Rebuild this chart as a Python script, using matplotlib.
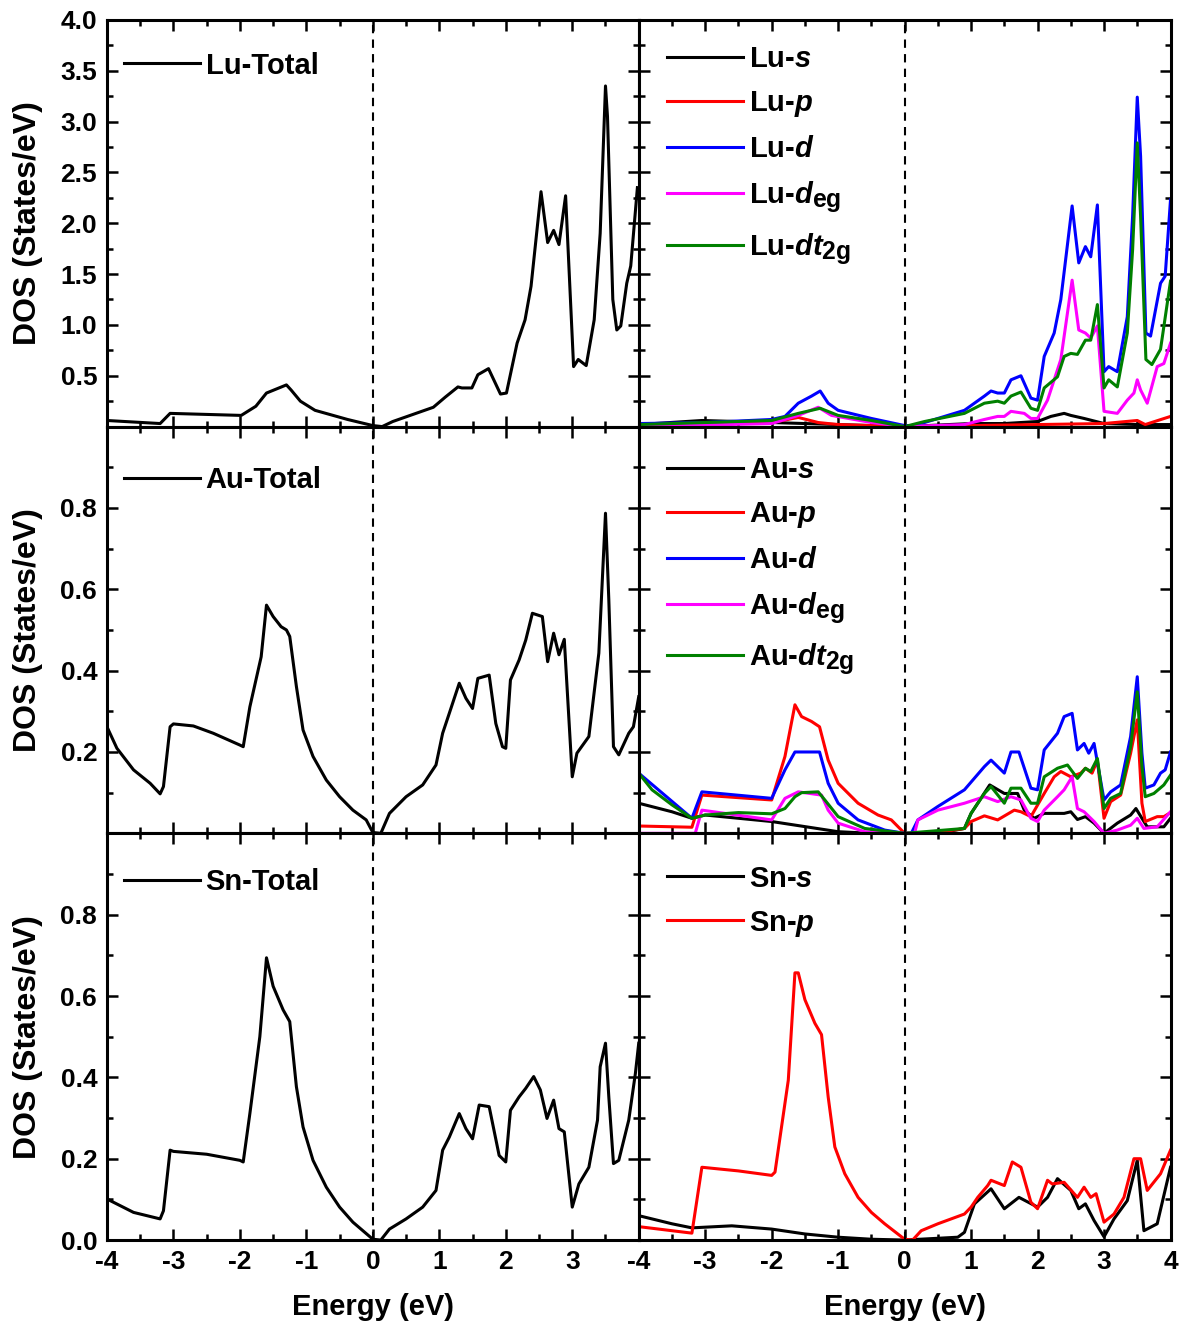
import numpy as np
import matplotlib
matplotlib.use("Agg")
import matplotlib.pyplot as plt
import matplotlib._mathtext as mtext
from matplotlib.ticker import MultipleLocator

plt.rcParams['font.family'] = ['Liberation Sans', 'DejaVu Sans']
plt.rcParams['font.weight'] = 'bold'
plt.rcParams['mathtext.fontset'] = 'custom'
plt.rcParams['mathtext.rm'] = 'Liberation Sans:bold'
plt.rcParams['mathtext.bf'] = 'Liberation Sans:bold'
plt.rcParams['mathtext.it'] = 'Liberation Sans:italic:bold'
mtext.SHRINK_FACTOR = 0.85  # subscripts in the original are nearly full size

# ---- Lu ----
lu_total_e = [-4, -3.2, -3.05, -1.98, -1.76, -1.6, -1.3, -1.23, -1.09, -0.87, -0.38, 0, 0.14, 0.3,
              0.91, 1.09, 1.28, 1.34, 1.49, 1.58, 1.74, 1.92, 2.01, 2.17, 2.29, 2.38, 2.53, 2.63,
              2.72, 2.8, 2.9, 3.02, 3.09, 3.21, 3.33, 3.42, 3.5, 3.53, 3.61, 3.67, 3.73, 3.82,
              3.88, 3.98]
lu_total = [0.06, 0.03, 0.13, 0.11, 0.2, 0.33, 0.41, 0.36, 0.25, 0.16, 0.07, 0.01, 0.0, 0.05,
            0.19, 0.29, 0.39, 0.38, 0.38, 0.51, 0.57, 0.32, 0.33, 0.82, 1.05, 1.38, 2.31, 1.81,
            1.93, 1.79, 2.27, 0.59, 0.66, 0.6, 1.05, 1.9, 3.35, 3.05, 1.25, 0.95, 0.99, 1.41,
            1.58, 2.35]

lu_s_e = [-4, -3.05, -2, -1.5, -1, 0, 1, 1.5, 2, 2.2, 2.4, 2.5, 2.7, 3, 3.5, 4]
lu_s = [0.02, 0.06, 0.04, 0.03, 0.02, 0, 0.03, 0.03, 0.05, 0.1, 0.13, 0.11, 0.08, 0.03, 0.02, 0.02]

lu_p_e = [-4, -2, -1.6, -1.3, -1, 0, 1, 2, 3, 3.5, 3.62, 4]
lu_p = [0.02, 0.04, 0.09, 0.04, 0.02, 0, 0.01, 0.02, 0.03, 0.06, 0.02, 0.1]

lu_d_e = [-4, -3, -2, -1.8, -1.6, -1.4, -1.27, -1.15, -1, -0.5, 0, 0.1, 0.3, 0.9, 1.2, 1.3,
          1.4, 1.5, 1.6, 1.75, 1.9, 2, 2.1, 2.25, 2.35, 2.52, 2.62, 2.72, 2.8, 2.9, 3, 3.07,
          3.2, 3.35, 3.43, 3.5, 3.55, 3.63, 3.7, 3.85, 3.92, 4]
lu_d = [0.03, 0.04, 0.07, 0.1, 0.23, 0.3, 0.35, 0.23, 0.16, 0.08, 0.01, 0.01, 0.04, 0.16, 0.3,
        0.35, 0.33, 0.33, 0.46, 0.5, 0.28, 0.26, 0.69, 0.92, 1.25, 2.17, 1.61, 1.77, 1.67, 2.18,
        0.54, 0.59, 0.54, 1.08, 2.07, 3.24, 2.66, 0.92, 0.89, 1.41, 1.48, 2.23]

lu_deg_e = [-4, -2, -1.6, -1.3, -1.1, -0.5, 0, 0.9, 1.2, 1.4, 1.5, 1.6, 1.8, 1.9, 2, 2.15,
            2.35, 2.52, 2.62, 2.72, 2.8, 2.9, 3, 3.2, 3.35, 3.45, 3.5, 3.55, 3.65, 3.8, 3.9, 4]
lu_deg = [0.0, 0.03, 0.11, 0.19, 0.11, 0.04, 0, 0.02, 0.07, 0.1, 0.1, 0.15, 0.13, 0.08, 0.08,
          0.26, 0.66, 1.44, 0.95, 0.92, 0.87, 0.99, 0.15, 0.13, 0.26, 0.33, 0.46, 0.36, 0.23,
          0.59, 0.62, 0.82]

lu_dt2g_e = [-4, -2, -1.6, -1.27, -1, -0.5, 0, 0.3, 0.9, 1.2, 1.4, 1.5, 1.6, 1.75, 1.9, 2,
             2.1, 2.3, 2.4, 2.5, 2.6, 2.72, 2.8, 2.9, 3, 3.07, 3.2, 3.35, 3.43, 3.5, 3.55, 3.63,
             3.72, 3.85, 4]
lu_dt2g = [0.02, 0.06, 0.13, 0.18, 0.11, 0.06, 0, 0.05, 0.13, 0.23, 0.25, 0.23, 0.3, 0.34,
           0.18, 0.16, 0.38, 0.49, 0.69, 0.72, 0.71, 0.85, 0.85, 1.2, 0.38, 0.46, 0.39, 0.92,
           1.74, 2.79, 2.07, 0.66, 0.61, 0.76, 1.43]

# ---- Au ----
au_total_e = [-4, -3.85, -3.6, -3.35, -3.2, -3.15, -3.05, -3, -2.7, -2.4, -2, -1.95, -1.85,
              -1.68, -1.6, -1.5, -1.38, -1.3, -1.25, -1.15, -1.05, -0.9, -0.7, -0.5, -0.3, -0.1,
              0, 0.12, 0.25, 0.5, 0.75, 0.95, 1.05, 1.15, 1.3, 1.4, 1.5, 1.58, 1.75, 1.85, 1.95,
              2, 2.07, 2.2, 2.3, 2.4, 2.55, 2.63, 2.72, 2.8, 2.88, 3, 3.07, 3.25, 3.4, 3.5, 3.55,
              3.62, 3.7, 3.85, 3.92, 4]
au_total = [0.262, 0.209, 0.156, 0.123, 0.097, 0.115, 0.262, 0.269, 0.264, 0.246, 0.217, 0.213,
            0.311, 0.434, 0.561, 0.533, 0.508, 0.5, 0.484, 0.361, 0.254, 0.189, 0.131, 0.09,
            0.057, 0.033, 0.002, 0.0, 0.049, 0.09, 0.119, 0.168, 0.246, 0.295, 0.369, 0.332,
            0.307, 0.381, 0.389, 0.27, 0.213, 0.209, 0.377, 0.426, 0.475, 0.541, 0.533, 0.422,
            0.492, 0.439, 0.477, 0.139, 0.197, 0.238, 0.443, 0.787, 0.574, 0.213, 0.193, 0.246,
            0.262, 0.336]

au_s_e = [-4, -3.5, -3.2, -3, -2, -1, -0.5, 0, 0.5, 0.9, 1, 1.28, 1.5, 1.7, 1.8, 1.95, 2.1,
          2.4, 2.5, 2.6, 2.72, 2.85, 3, 3.2, 3.4, 3.48, 3.57, 3.65, 3.9, 4]
au_s = [0.074, 0.053, 0.037, 0.045, 0.029, 0.004, 0, 0, 0, 0.012, 0.049, 0.119, 0.098, 0.098,
        0.057, 0.037, 0.049, 0.049, 0.053, 0.034, 0.041, 0.025, 0, 0.025, 0.045, 0.061, 0.037,
        0.016, 0.016, 0.037]

au_p_e = [-4, -3.2, -3.05, -2, -1.8, -1.65, -1.55, -1.4, -1.28, -1.15, -1, -0.7, -0.4, -0.2, 0,
          0.5, 0.9, 1, 1.2, 1.4, 1.65, 1.75, 1.9, 2.1, 2.25, 2.35, 2.5, 2.65, 2.72, 2.82, 2.9,
          3, 3.1, 3.25, 3.4, 3.5, 3.57, 3.62, 3.8, 3.9, 4]
au_p = [0.018, 0.015, 0.094, 0.082, 0.189, 0.316, 0.287, 0.275, 0.262, 0.18, 0.123, 0.074, 0.045,
        0.033, 0, 0.002, 0.012, 0.029, 0.043, 0.033, 0.057, 0.053, 0.041, 0.098, 0.139, 0.152,
        0.139, 0.148, 0.16, 0.148, 0.18, 0.037, 0.078, 0.094, 0.197, 0.279, 0.074, 0.029, 0.041,
        0.041, 0.051]

au_d_e = [-4, -3.2, -3.05, -2, -1.8, -1.65, -1.28, -1.15, -1, -0.7, -0.3, 0, 0.1, 0.2, 0.5,
          0.9, 1.2, 1.3, 1.5, 1.6, 1.72, 1.9, 2, 2.1, 2.3, 2.4, 2.52, 2.6, 2.7, 2.77, 2.85, 3,
          3.1, 3.25, 3.4, 3.5, 3.57, 3.62, 3.75, 3.85, 3.92, 4]
au_d = [0.148, 0.037, 0.102, 0.086, 0.156, 0.2, 0.2, 0.123, 0.074, 0.033, 0.008, 0, 0, 0.033,
        0.066, 0.107, 0.164, 0.18, 0.148, 0.2, 0.2, 0.111, 0.107, 0.205, 0.246, 0.287, 0.295,
        0.205, 0.221, 0.197, 0.221, 0.082, 0.102, 0.119, 0.238, 0.385, 0.197, 0.111, 0.119,
        0.148, 0.156, 0.2]

au_deg_e = [-4, -3.15, -3.05, -2, -1.8, -1.6, -1.25, -1.15, -1, -0.6, 0, 0.15, 0.2, 0.5, 0.9,
            1.2, 1.4, 1.6, 1.75, 1.9, 2, 2.1, 2.3, 2.4, 2.52, 2.6, 2.7, 2.85, 3, 3.2, 3.4, 3.5,
            3.6, 3.8, 4]
au_deg = [0.0, 0.0, 0.057, 0.033, 0.086, 0.102, 0.094, 0.057, 0.025, 0.004, 0, 0, 0.033, 0.057,
          0.074, 0.09, 0.078, 0.09, 0.082, 0.037, 0.029, 0.057, 0.09, 0.107, 0.139, 0.061, 0.053,
          0.029, 0, 0.008, 0.02, 0.037, 0.012, 0.016, 0.053]

au_dt2g_e = [-4, -3.8, -3.5, -3.2, -3, -2.5, -2, -1.8, -1.65, -1.55, -1.3, -1.2, -1, -0.6, 0,
             0.9, 1, 1.2, 1.3, 1.5, 1.6, 1.75, 1.9, 2, 2.1, 2.3, 2.45, 2.6, 2.72, 2.8, 2.9, 3,
             3.1, 3.25, 3.4, 3.5, 3.57, 3.62, 3.75, 3.9, 4]
au_dt2g = [0.148, 0.107, 0.07, 0.037, 0.045, 0.051, 0.048, 0.061, 0.09, 0.1, 0.102, 0.082, 0.041,
           0.012, 0, 0.012, 0.049, 0.098, 0.115, 0.074, 0.111, 0.111, 0.074, 0.074, 0.139, 0.16,
           0.168, 0.135, 0.16, 0.152, 0.184, 0.061, 0.086, 0.098, 0.213, 0.348, 0.164, 0.09,
           0.098, 0.119, 0.143]

# ---- Sn ----
sn_total_e = [-4, -3.6, -3.2, -3.15, -3.05, -3, -2.5, -2, -1.95, -1.85, -1.7, -1.6, -1.5, -1.35,
              -1.25, -1.15, -1.05, -0.9, -0.7, -0.5, -0.3, 0, 0.12, 0.25, 0.5, 0.75, 0.95, 1.05,
              1.15, 1.3, 1.4, 1.5, 1.6, 1.75, 1.9, 2, 2.07, 2.2, 2.3, 2.42, 2.52, 2.62, 2.72,
              2.8, 2.88, 3, 3.1, 3.25, 3.38, 3.42, 3.5, 3.55, 3.62, 3.7, 3.85, 3.95, 4]
sn_total = [0.101, 0.068, 0.052, 0.072, 0.221, 0.218, 0.211, 0.196, 0.192, 0.311, 0.5, 0.694,
            0.624, 0.566, 0.537, 0.377, 0.278, 0.196, 0.13, 0.081, 0.044, 0.002, 0.0, 0.027,
            0.052, 0.081, 0.122, 0.221, 0.253, 0.311, 0.274, 0.249, 0.332, 0.328, 0.208, 0.192,
            0.319, 0.352, 0.373, 0.402, 0.369, 0.299, 0.344, 0.274, 0.266, 0.081, 0.138, 0.179,
            0.295, 0.426, 0.484, 0.352, 0.188, 0.196, 0.295, 0.41, 0.484]

sn_s_e = [-4, -3.5, -3.2, -2.6, -2, -1.5, -1, -0.5, 0, 0.8, 0.9, 1.05, 1.3, 1.5, 1.72, 2, 2.15,
          2.3, 2.5, 2.62, 2.72, 2.85, 3, 3.15, 3.35, 3.5, 3.6, 3.8, 4]
sn_s = [0.06, 0.04, 0.03, 0.035, 0.027, 0.015, 0.007, 0.002, 0, 0.007, 0.019, 0.089, 0.126,
        0.077, 0.105, 0.081, 0.105, 0.151, 0.122, 0.077, 0.089, 0.048, 0.008, 0.052, 0.097,
        0.196, 0.023, 0.04, 0.179]

sn_p_e = [-4, -3.5, -3.2, -3.05, -2.5, -2, -1.95, -1.75, -1.65, -1.6, -1.5, -1.35, -1.25, -1.15,
          -1.05, -0.9, -0.7, -0.5, -0.3, 0, 0.12, 0.25, 0.5, 0.9, 1, 1.1, 1.25, 1.3, 1.5, 1.62,
          1.75, 1.9, 2, 2.15, 2.22, 2.4, 2.55, 2.6, 2.7, 2.8, 2.88, 3, 3.15, 3.3, 3.45, 3.55,
          3.65, 3.85, 4]
sn_p = [0.033, 0.023, 0.017, 0.179, 0.17, 0.159, 0.167, 0.393, 0.657, 0.657, 0.591, 0.533, 0.505,
        0.352, 0.229, 0.163, 0.105, 0.068, 0.04, 0.002, 0, 0.023, 0.04, 0.064, 0.081, 0.105,
        0.134, 0.147, 0.134, 0.192, 0.179, 0.093, 0.077, 0.147, 0.138, 0.142, 0.114, 0.105, 0.13,
        0.105, 0.114, 0.044, 0.064, 0.105, 0.2, 0.2, 0.122, 0.163, 0.221]

BLACK, RED, BLUE, MAGENTA, GREEN = '#000000', '#ff0000', '#0000ff', '#ff00ff', '#008000'
FS = 19       # tick labels
LEG_FS = 21   # legend text
LW = 2.2

fig, axes = plt.subplots(3, 2, figsize=(11.95, 13.24), dpi=100)
fig.subplots_adjust(left=0.0895, right=0.9795, top=0.985, bottom=0.0634, wspace=0, hspace=0)

rows = [
    dict(total=(lu_total_e, lu_total, 'Lu-Total'),
         parts=[(lu_s_e, lu_s, BLACK, 'Lu-$\\mathit{s}$'),
                (lu_p_e, lu_p, RED, 'Lu-$\\mathit{p}$'),
                (lu_d_e, lu_d, BLUE, 'Lu-$\\mathit{d}$'),
                (lu_deg_e, lu_deg, MAGENTA, 'Lu-$\\mathit{d}_{\\mathrm{eg}}$'),
                (lu_dt2g_e, lu_dt2g, GREEN, 'Lu-$\\mathit{dt}_{\\mathrm{2g}}$')],
         ymax=4.0, major=0.5, minor=0.25, legL=0.922, legR=0.938),
    dict(total=(au_total_e, au_total, 'Au-Total'),
         parts=[(au_s_e, au_s, BLACK, 'Au-$\\mathit{s}$'),
                (au_p_e, au_p, RED, 'Au-$\\mathit{p}$'),
                (au_d_e, au_d, BLUE, 'Au-$\\mathit{d}$'),
                (au_deg_e, au_deg, MAGENTA, 'Au-$\\mathit{d}_{\\mathrm{eg}}$'),
                (au_dt2g_e, au_dt2g, GREEN, 'Au-$\\mathit{dt}_{\\mathrm{2g}}$')],
         ymax=1.0, major=0.2, minor=0.1, legL=0.903, legR=0.928),
    dict(total=(sn_total_e, sn_total, 'Sn-Total'),
         parts=[(sn_s_e, sn_s, BLACK, 'Sn-$\\mathit{s}$'),
                (sn_p_e, sn_p, RED, 'Sn-$\\mathit{p}$')],
         ymax=1.0, major=0.2, minor=0.1, legL=0.915, legR=0.923),
]

for r, row in enumerate(rows):
    axL, axR = axes[r]
    e, d, lab = row['total']
    axL.plot(e, d, color=BLACK, lw=LW, label=lab)
    for e, d, c, lab in row['parts']:
        axR.plot(e, d, color=c, lw=LW, label=lab)

    for ax, lx, ly in ((axL, 0.032, row['legL']), (axR, 0.054, row['legR'])):
        ax.set_xlim(-4, 4)
        ax.set_ylim(0, row['ymax'])
        ax.axvline(0, color='k', ls=(0, (4, 3)), lw=1.5)
        ax.xaxis.set_major_locator(MultipleLocator(1))
        ax.xaxis.set_minor_locator(MultipleLocator(0.5))
        ax.yaxis.set_major_locator(MultipleLocator(row['major']))
        ax.yaxis.set_minor_locator(MultipleLocator(row['minor']))
        ax.tick_params(which='both', direction='in', top=True, right=True, width=1.8,
                       labelsize=FS, pad=7)
        ax.tick_params(which='major', length=8)
        ax.tick_params(which='minor', length=4)
        for s in ax.spines.values():
            s.set_linewidth(2.2)
        ax.legend(loc='upper left', bbox_to_anchor=(lx, ly), frameon=False,
                  handlelength=2.6, handletextpad=0.2, labelspacing=0.55,
                  borderpad=0, borderaxespad=0,
                  prop={'weight': 'bold', 'size': LEG_FS})
        if r < 2:
            ax.tick_params(labelbottom=False)

    axR.tick_params(labelleft=False)
    ticks = np.arange(0, row['ymax'] + 1e-9, row['major'])
    labels = [f"{t:.1f}" for t in ticks]
    if r < 2:
        labels[0] = ''
    if r > 0:
        labels[-1] = ''
    axL.set_yticks(ticks)
    axL.set_yticklabels(labels)
    axL.set_ylabel('DOS (States/eV)', fontsize=23, fontweight='bold')
    axL.yaxis.set_label_coords(-0.12, 0.5)

xt = np.arange(-4, 5, 1)
axes[2][0].set_xticks(xt)
axes[2][0].set_xticklabels([str(v) for v in xt[:-1]] + [''])
axes[2][1].set_xticks(xt)
axes[2][1].set_xticklabels([str(v) for v in xt])
for ax in axes[2]:
    ax.set_xlabel('Energy (eV)', fontsize=21, fontweight='bold', labelpad=14)

fig.savefig('out.png', dpi=100)
